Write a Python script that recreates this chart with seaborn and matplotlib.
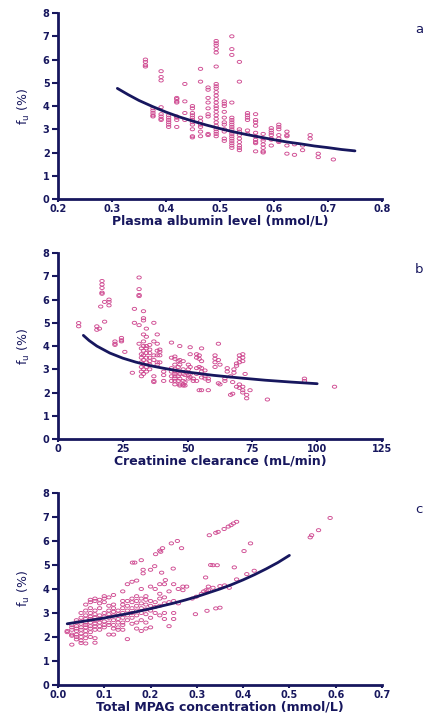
import numpy as np
import pandas as pd
import matplotlib
matplotlib.use('Agg')
import matplotlib.pyplot as plt
from matplotlib.path import Path
import seaborn as sns

# panel a: plasma albumin (mmol/L) -> fu (%), points come in vertical stacks
albumin_stacks = [
    (0.362, [6.0, 5.9, 5.76, 5.7]),
    (0.376, [3.9, 3.8, 3.7, 3.6, 3.55]),
    (0.391, [5.5, 5.25, 5.1, 3.95, 3.65, 3.55, 3.45, 3.4]),
    (0.405, [3.6, 3.5, 3.4, 3.3, 3.2, 3.1]),
    (0.420, [4.35, 4.3, 4.2, 4.15, 3.55, 3.5, 3.4, 3.1]),
    (0.435, [4.95, 4.2, 3.7, 3.4]),
    (0.449, [4.0, 3.9, 3.7, 3.6, 3.5, 3.4, 3.3, 3.2, 3.0, 2.7, 2.65]),
    (0.464, [5.6, 5.05, 3.5, 3.35, 3.2, 3.1, 2.9, 2.7]),
    (0.478, [4.8, 4.7, 4.35, 4.15, 3.9, 3.65, 3.55, 2.8, 2.75]),
    (0.493, [6.8, 6.7, 6.6, 6.45, 6.3, 5.7, 4.95, 4.85, 4.75, 4.6, 4.45, 4.3,
             4.15, 4.0, 3.9, 3.75, 3.6, 3.45, 3.3, 3.15, 3.0, 2.9, 2.8, 2.7]),
    (0.508, [4.2, 4.1, 4.0, 3.75, 3.5, 3.3, 3.2, 3.0, 2.9, 2.6, 2.5]),
    (0.522, [7.0, 6.45, 6.2, 4.15, 3.5, 3.4, 3.3, 3.2, 3.1, 3.0, 2.9, 2.8,
             2.7, 2.6, 2.5, 2.4, 2.3, 2.2]),
    (0.536, [5.9, 5.05, 3.0, 2.9, 2.75, 2.6, 2.45, 2.3, 2.2, 2.1]),
    (0.551, [3.7, 3.6, 3.5, 3.4, 2.95, 2.8]),
    (0.566, [3.65, 3.4, 3.3, 3.15, 2.85, 2.7, 2.55, 2.45, 2.4, 2.05]),
    (0.580, [2.8, 2.6, 2.5, 2.35, 2.2, 2.05, 2.0]),
    (0.595, [3.05, 2.95, 2.85, 2.75, 2.6, 2.55, 2.3]),
    (0.609, [3.2, 3.1, 3.0, 2.75, 2.6, 2.5, 2.45]),
    (0.624, [2.9, 2.75, 2.7, 2.3, 1.95]),
    (0.638, [2.35, 1.9]),
    (0.653, [2.3, 2.1]),
    (0.667, [2.75, 2.6]),
    (0.682, [1.95, 1.8]),
    (0.710, [1.7]),
]
albumin_fit_x = [0.31, 0.33, 0.35, 0.375, 0.40, 0.425, 0.45, 0.475, 0.50, 0.525,
                 0.55, 0.575, 0.60, 0.625, 0.65, 0.675, 0.70, 0.725, 0.75]
albumin_fit_y = [4.76, 4.49, 4.24, 3.98, 3.74, 3.53, 3.35, 3.18, 3.03, 2.89,
                 2.77, 2.66, 2.55, 2.45, 2.37, 2.28, 2.21, 2.13, 2.07]

# panel b: creatinine clearance (mL/min) -> fu (%)
crcl_stacks = [
    (8.0, [4.99, 4.85]),
    (15.0, [4.85, 4.7]),
    (16.0, [4.75]),
    (16.5, [5.7]),
    (17.0, [6.8, 6.65, 6.5, 6.3, 6.25]),
    (18.0, [5.9, 5.05]),
    (19.7, [6.0, 5.9, 5.75]),
    (22.0, [4.2, 4.1, 4.05]),
    (24.5, [4.35, 4.25, 4.2]),
    (25.8, [3.75]),
    (28.7, [2.85]),
    (29.5, [5.6, 5.0]),
    (31.3, [6.95, 6.45, 6.2, 6.15, 4.9, 4.1]),
    (32.2, [3.9, 3.65, 3.5, 3.3, 3.1, 2.9, 2.7]),
    (33.0, [5.5, 5.2, 5.1, 4.5, 4.2, 4.0, 3.8, 3.6, 3.4, 3.2, 3.0, 2.8]),
    (34.1, [4.75, 4.4, 4.0, 3.9, 3.7, 3.5, 3.3, 3.1, 2.9]),
    (35.4, [4.05, 3.85, 3.7, 3.5, 3.35, 3.2, 3.0]),
    (37.0, [5.0, 4.2, 3.6, 3.4, 2.7, 2.5, 2.45]),
    (38.3, [4.5, 4.1, 3.8, 3.6, 3.3, 3.2]),
    (39.3, [3.85, 3.75, 3.6, 3.3]),
    (40.8, [2.9, 2.75, 2.5]),
    (43.8, [4.15, 3.5, 3.05, 2.9, 2.7, 2.5]),
    (45.1, [3.55, 3.45, 3.2, 3.0, 2.9, 2.8, 2.7, 2.6, 2.5, 2.35]),
    (46.4, [3.35, 3.1, 2.9, 2.7, 2.5]),
    (47.0, [4.0, 3.4, 3.2, 2.8, 2.6, 2.35, 2.3]),
    (48.3, [3.35, 3.0, 2.8, 2.5, 2.35, 2.3]),
    (49.0, [2.75, 2.45, 2.3]),
    (50.3, [3.2, 3.0, 2.75, 2.6]),
    (51.0, [3.95, 3.65, 3.1, 2.8, 2.65]),
    (52.2, [2.6, 2.5]),
    (53.5, [3.65, 3.5, 3.05, 2.8, 2.5]),
    (54.5, [3.6, 3.45, 3.1, 2.1]),
    (55.4, [3.9, 3.35, 3.05, 2.9, 2.65, 2.1]),
    (56.7, [2.95, 2.7, 2.6]),
    (58.0, [2.6, 2.5, 2.1]),
    (60.6, [3.6, 3.45, 3.3, 3.1]),
    (61.9, [4.1, 3.4, 2.4]),
    (62.5, [3.2, 2.35]),
    (64.4, [2.6, 2.5]),
    (65.3, [3.05, 2.9]),
    (66.6, [2.7, 1.9]),
    (67.4, [2.45, 1.95]),
    (67.9, [3.0, 2.85]),
    (68.9, [3.25, 3.15, 2.25]),
    (70.0, [3.6, 3.45, 3.3, 2.35, 2.2]),
    (71.3, [3.65, 3.5, 3.35, 2.25, 2.1, 2.0]),
    (72.2, [2.8]),
    (72.8, [1.9, 1.75]),
    (74.1, [2.1]),
    (80.8, [1.7]),
    (95.1, [2.6, 2.5]),
    (106.7, [2.25]),
]
crcl_fit_x = [9.8, 12, 15, 20, 25, 30, 35, 40, 45, 50, 60, 70, 80, 90, 100]
crcl_fit_y = [4.46, 4.24, 4.00, 3.70, 3.48, 3.31, 3.17, 3.06, 2.96, 2.88,
              2.74, 2.63, 2.53, 2.45, 2.38]

# panel c: total MPAG (mmol/L) -> fu (%), dense cluster by column + scattered ones
mpag_stacks = [
    (0.020, [2.25, 2.2]),
    (0.030, [2.5, 2.4, 2.3, 2.1, 2.05, 1.68]),
    (0.040, [2.7, 2.6, 2.45, 2.35, 2.25, 2.1, 2.0, 1.9]),
    (0.050, [3.0, 2.8, 2.65, 2.55, 2.4, 2.3, 2.15, 2.0, 1.85, 1.75]),
    (0.060, [3.35, 3.1, 2.9, 2.75, 2.6, 2.5, 2.4, 2.25, 2.1, 1.95, 1.73]),
    (0.070, [3.55, 3.45, 3.2, 3.0, 2.85, 2.75, 2.6, 2.45, 2.35, 2.2, 2.0]),
    (0.080, [3.6, 3.5, 3.1, 2.95, 2.8, 2.7, 2.55, 2.45, 2.3, 1.95, 1.76]),
    (0.090, [3.55, 3.4, 3.2, 2.9, 2.75, 2.6, 2.45, 2.3]),
    (0.100, [3.7, 3.6, 3.45, 3.0, 2.85, 2.65, 2.5, 2.4]),
    (0.110, [3.65, 3.3, 3.1, 2.95, 2.8, 2.6, 2.5, 2.1]),
    (0.120, [3.75, 3.35, 3.2, 3.05, 2.9, 2.7, 2.5, 2.35, 2.1]),
    (0.130, [3.1, 2.95, 2.75, 2.6, 2.4, 2.3]),
    (0.140, [3.9, 3.5, 3.35, 3.2, 3.0, 2.8, 2.6, 2.5, 2.3]),
    (0.150, [4.2, 3.5, 3.3, 3.1, 2.9, 2.7, 1.91]),
    (0.160, [4.3, 3.6, 3.45, 3.2, 3.0, 2.8, 2.55]),
    (0.170, [4.35, 3.7, 3.5, 3.3, 3.1, 2.9, 2.6, 2.35]),
    (0.180, [4.0, 3.6, 3.4, 3.2, 3.0, 2.7, 2.25]),
    (0.190, [3.7, 3.55, 3.35, 3.15, 2.95, 2.6, 2.35]),
    (0.200, [4.1, 3.5, 3.3, 3.1, 2.8, 2.4]),
    (0.210, [4.0, 3.45, 3.25, 3.0]),
    (0.220, [4.2, 3.8, 3.6, 3.3, 2.9]),
    (0.230, [4.2, 3.65, 3.4, 3.0, 2.75]),
    (0.240, [3.9, 3.45, 2.45]),
    (0.250, [4.2, 3.5, 3.0, 2.75]),
    (0.260, [4.0, 3.4]),
]
mpag_x = [0.161, 0.166, 0.180, 0.184, 0.184, 0.200, 0.209, 0.211, 0.220, 0.222,
          0.226, 0.224, 0.232, 0.245, 0.249, 0.258, 0.267, 0.270, 0.270, 0.278,
          0.290, 0.297, 0.299, 0.310, 0.315, 0.319, 0.320, 0.322, 0.325, 0.325,
          0.327, 0.330, 0.335, 0.335, 0.341, 0.341, 0.344, 0.346, 0.350, 0.350,
          0.359, 0.360, 0.368, 0.370, 0.374, 0.379, 0.381, 0.386, 0.386, 0.402,
          0.408, 0.416, 0.424, 0.545, 0.548, 0.563, 0.588]
mpag_fu = [5.10, 5.10, 5.20, 4.80, 4.65, 4.80, 4.95, 5.45, 5.60, 5.55,
           5.70, 4.68, 4.37, 5.90, 4.85, 6.00, 5.70, 4.10, 3.95, 4.10,
           3.60, 2.95, 3.68, 3.80, 3.90, 4.48, 3.95, 3.09, 4.10, 3.95,
           6.24, 5.00, 4.99, 4.05, 6.34, 3.19, 4.99, 6.38, 4.12, 3.22,
           6.50, 4.15, 6.60, 4.05, 6.66, 6.73, 4.90, 6.80, 4.40, 5.58,
           4.62, 5.90, 4.76, 6.15, 6.24, 6.45, 6.96]
mpag_fit_x = [0.02, 0.05, 0.10, 0.15, 0.20, 0.25, 0.275, 0.30, 0.325, 0.35,
              0.375, 0.40, 0.425, 0.45, 0.475, 0.50]
mpag_fit_y = [2.55, 2.64, 2.79, 2.97, 3.18, 3.41, 3.54, 3.68, 3.84, 4.00,
              4.18, 4.38, 4.60, 4.84, 5.10, 5.40]


def flatten(stacks):
    xs, ys = [], []
    for x, col in stacks:
        xs += [x] * len(col)
        ys += col
    return xs, ys


navy = '#17175e'
pink = '#cf4a91'

sns.set_style('white')
plt.rcParams['font.family'] = ['DejaVu Sans']

# small open ellipse marker like the scanned figure
t = np.linspace(0, 2 * np.pi, 30)
ellipse = Path(np.column_stack([np.cos(t), 0.7 * np.sin(t)]))
dot_kw = dict(marker=ellipse, s=10, facecolor='none', edgecolor=pink, linewidth=0.65)

fig = plt.figure(figsize=(4.23, 7.15), dpi=100)
boxes = [[0.137, 0.7217, 0.766, 0.260],
         [0.137, 0.3860, 0.766, 0.260],
         [0.137, 0.0420, 0.766, 0.2685]]

ax_a = fig.add_axes(boxes[0])
xa, ya = flatten(albumin_stacks)
df_a = pd.DataFrame({'albumin': xa, 'fu': ya})
sns.scatterplot(data=df_a, x='albumin', y='fu', ax=ax_a, **dot_kw)
sns.lineplot(x=albumin_fit_x, y=albumin_fit_y, ax=ax_a, color=navy, lw=2)
ax_a.set_xlim(0.2, 0.8)
ax_a.set_xticks([0.2, 0.3, 0.4, 0.5, 0.6, 0.7, 0.8])
ax_a.set_xlabel('Plasma albumin level (mmol/L)')

ax_b = fig.add_axes(boxes[1])
xb, yb = flatten(crcl_stacks)
df_b = pd.DataFrame({'crcl': xb, 'fu': yb})
sns.scatterplot(data=df_b, x='crcl', y='fu', ax=ax_b, **dot_kw)
sns.lineplot(x=crcl_fit_x, y=crcl_fit_y, ax=ax_b, color=navy, lw=2)
ax_b.set_xlim(0, 125)
ax_b.set_xticks([0, 25, 50, 75, 100, 125])
ax_b.set_xlabel('Creatinine clearance (mL/min)')

ax_c = fig.add_axes(boxes[2])
xc, yc = flatten(mpag_stacks)
df_c = pd.DataFrame({'mpag': xc + mpag_x, 'fu': yc + mpag_fu})
sns.scatterplot(data=df_c, x='mpag', y='fu', ax=ax_c, **dot_kw)
sns.lineplot(x=mpag_fit_x, y=mpag_fit_y, ax=ax_c, color=navy, lw=2)
ax_c.set_xlim(0, 0.7)
ax_c.set_xticks([0.0, 0.1, 0.2, 0.3, 0.4, 0.5, 0.6, 0.7])
ax_c.set_xlabel('Total MPAG concentration (mmol/L)')

for ax, letter in zip([ax_a, ax_b, ax_c], ['a', 'b', 'c']):
    ax.set_ylim(0, 8)
    ax.set_yticks(range(0, 9))
    ax.set_ylabel('f$_{\\mathregular{u}}$ (%)', color=navy, fontsize=9, labelpad=8)
    ax.xaxis.label.set_color(navy)
    ax.xaxis.label.set_fontweight('bold')
    ax.xaxis.label.set_fontsize(9)
    ax.xaxis.labelpad = 0.5
    for side in ['top', 'right']:
        ax.spines[side].set_visible(False)
    for side in ['left', 'bottom']:
        ax.spines[side].set_color(navy)
        ax.spines[side].set_linewidth(2)
    ax.tick_params(direction='out', width=1.5, color=navy, labelcolor=navy,
                   labelsize=7, bottom=True, left=True)
    ax.tick_params(axis='y', length=4.5, pad=1.5)
    ax.tick_params(axis='x', length=2, pad=1.5)
    for lab in ax.get_xticklabels() + ax.get_yticklabels():
        lab.set_fontweight('bold')
    ax.patch.set_alpha(0)
    pos = ax.get_position()
    fig.text(0.981, pos.y1 - 0.028, letter, color=navy, fontsize=9.5, ha='left')

fig.savefig('out.png', dpi=100)
